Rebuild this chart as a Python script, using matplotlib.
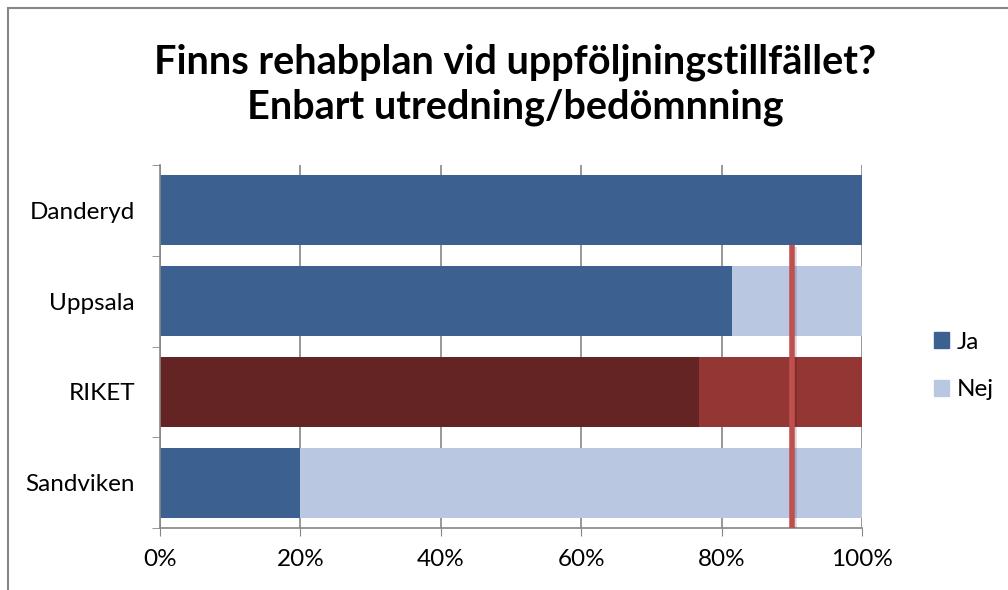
import matplotlib
matplotlib.use("Agg")
import matplotlib.pyplot as plt
import matplotlib.patheffects as pe
from matplotlib.patches import Rectangle

plt.rcParams['font.family'] = ['Lato', 'DejaVu Sans']

# data
categories = ['Danderyd', 'Uppsala', 'RIKET', 'Sandviken']
ja = [100, 81.5, 76.8, 20]
nej = [0, 18.5, 23.2, 80]
target = 90
title = 'Finns rehabplan vid uppföljningstillfället?\nEnbart utredning/bedömnning'
xticks = [0, 20, 40, 60, 80, 100]

ja_col = '#3C6090'
nej_col = '#B9C7E0'
riket_ja = '#632423'
riket_nej = '#943634'

fig = plt.figure(figsize=(10.08, 5.9), dpi=100)
ax = fig.add_axes([160 / 1008, 1 - 528 / 590, 702 / 1008, 363 / 590])

ys = list(range(len(categories)))
ja_colors = [riket_ja if c == 'RIKET' else ja_col for c in categories]
nej_colors = [riket_nej if c == 'RIKET' else nej_col for c in categories]
ax.barh(ys, ja, height=0.77, color=ja_colors, zorder=2, label='Ja')
ax.barh(ys, nej, left=ja, height=0.77, color=nej_colors, zorder=2, label='Nej')

# målnivå
ax.plot([target, target], [0.385, 3.5], color='#C0504D', lw=4, zorder=4,
        solid_capstyle='butt',
        path_effects=[pe.SimpleLineShadow(offset=(1.5, -1.5), shadow_color='black', alpha=0.15), pe.Normal()])

ax.set_xlim(0, 100)
ax.set_ylim(3.5, -0.5)
ax.set_xticks(xticks)
ax.set_xticklabels([f'{v}%' for v in xticks], fontsize=17.5)
ax.set_yticks(ys)
ax.set_yticklabels(categories, fontsize=17.5)
ax.tick_params(axis='y', length=0, pad=18)
ax.tick_params(axis='x', length=6, color='#868686', pad=9)
ax.set_yticks([-0.5, 0.5, 1.5, 2.5, 3.5], minor=True)
ax.tick_params(axis='y', which='minor', length=6, color='#868686')
ax.grid(axis='x', color='#868686', lw=1.2, zorder=0)
for s in ['top', 'right']:
    ax.spines[s].set_visible(False)
for s in ['left', 'bottom']:
    ax.spines[s].set_color('#868686')
    ax.spines[s].set_linewidth(1.2)

fig.text(515 / 1008, 1 - 85 / 590, title, ha='center', va='center', fontsize=28.5,
         fontweight='bold', linespacing=1.25)

leg = fig.legend(handles=[Rectangle((0, 0), 1, 1, color=ja_col), Rectangle((0, 0), 1, 1, color=nej_col)],
                 labels=['Ja', 'Nej'], loc='center left', bbox_to_anchor=(934 / 1008, 1 - 366 / 590),
                 frameon=False, fontsize=17.5, handlelength=0.6, handleheight=0.6,
                 handletextpad=0.35, labelspacing=1.1, borderpad=0, borderaxespad=0)

# ram runt diagrammet
fig.patches.append(Rectangle((8 / 1008, -0.1), 1.2, 1 - 8 / 590 + 0.1, transform=fig.transFigure,
                             fill=False, edgecolor='#868686', lw=1.5))

fig.savefig('out.png', dpi=100)
